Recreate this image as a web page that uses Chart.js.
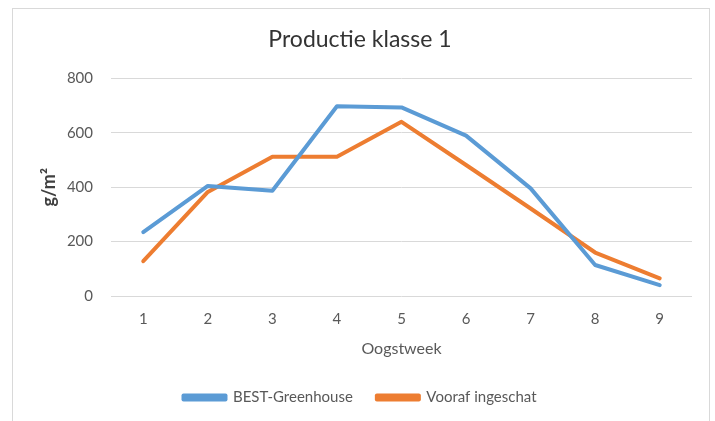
<!DOCTYPE html>
<html lang="nl">
<head>
    <meta charset="UTF-8">
    <title>Productie klasse 1</title>
    <script src="https://cdn.jsdelivr.net/npm/chart.js@4/dist/chart.umd.min.js"></script>
    <style>
        html, body { margin: 0; padding: 0; background: #fff; }
        .wrap { position: relative; width: 715px; height: 421px; overflow: hidden; }
        .frame { position: absolute; left: 12px; top: 8px; width: 696px; height: 440px; border: 1px solid #d9d9d9; }
        canvas { position: absolute; left: 0; top: 0; }
    </style>
</head>
<body>
    <div class="wrap">
        <div class="frame"></div>
        <canvas id="chart" width="715" height="421"></canvas>
    </div>

    <script>
        // data
        const weeks = ['1', '2', '3', '4', '5', '6', '7', '8', '9'];
        const bestGreenhouse = [235, 405, 387, 698, 694, 590, 396, 114, 40];
        const voorafIngeschat = [128, 383, 512, 512, 641, 482, 322, 160, 65];
        const yTicks = [0, 200, 400, 600, 800];

        const textColor = '#595959';
        const fontFamily = 'Lato, "Noto Sans", sans-serif';

        const makeLine = (label, data, color) => ({
            label,
            data,
            borderColor: color,
            backgroundColor: color,
            borderWidth: 4,
            borderJoinStyle: 'round',
            borderCapStyle: 'round',
            pointRadius: 0,
            tension: 0
        });

        new Chart(document.getElementById('chart'), {
            type: 'line',
            data: {
                labels: weeks,
                datasets: [
                    makeLine('BEST-Greenhouse', bestGreenhouse, '#5b9bd5'),
                    makeLine('Vooraf ingeschat', voorafIngeschat, '#ed7d31')
                ]
            },
            options: {
                responsive: false,
                animation: false,
                layout: { padding: { left: 5, right: 0, top: 0, bottom: 6 } },
                plugins: {
                    title: {
                        display: true,
                        text: 'Productie klasse 1',
                        color: '#333333',
                        font: { family: fontFamily, size: 23, weight: 'normal' },
                        padding: { top: 26, bottom: 25 }
                    },
                    legend: {
                        position: 'bottom',
                        labels: {
                            color: textColor,
                            font: { family: fontFamily, size: 15 },
                            boxWidth: 42,
                            boxHeight: 4,
                            padding: 24
                        }
                    },
                    tooltip: { enabled: false }
                },
                scales: {
                    x: {
                        offset: true,
                        grid: { display: false, drawTicks: false, offset: true },
                        border: { display: false },
                        ticks: { color: textColor, font: { family: fontFamily, size: 15 }, padding: 14 },
                        title: {
                            display: true,
                            text: 'Oogstweek',
                            color: textColor,
                            font: { family: fontFamily, size: 16 },
                            padding: { top: 4, bottom: 8 }
                        },
                        afterFit: (scale) => { scale.height = 70; }
                    },
                    y: {
                        min: 0,
                        max: 800,
                        afterBuildTicks: (scale) => { scale.ticks = yTicks.map(v => ({ value: v })); },
                        grid: { color: '#d9d9d9', lineWidth: 1, drawTicks: false },
                        border: { display: false },
                        ticks: { color: textColor, font: { family: fontFamily, size: 15 }, padding: 18 },
                        title: {
                            display: true,
                            text: 'g/m²',
                            color: '#404040',
                            font: { family: fontFamily, size: 18, weight: 'bold' },
                            padding: { top: 33, bottom: 0 }
                        },
                        afterFit: (scale) => { scale.width = 106; }
                    },
                    yRight: {
                        position: 'right',
                        min: 0,
                        max: 800,
                        grid: { display: false, drawTicks: false },
                        border: { display: false },
                        ticks: { display: false },
                        afterFit: (scale) => { scale.width = 23; }
                    }
                }
            }
        });
    </script>
</body>
</html>
